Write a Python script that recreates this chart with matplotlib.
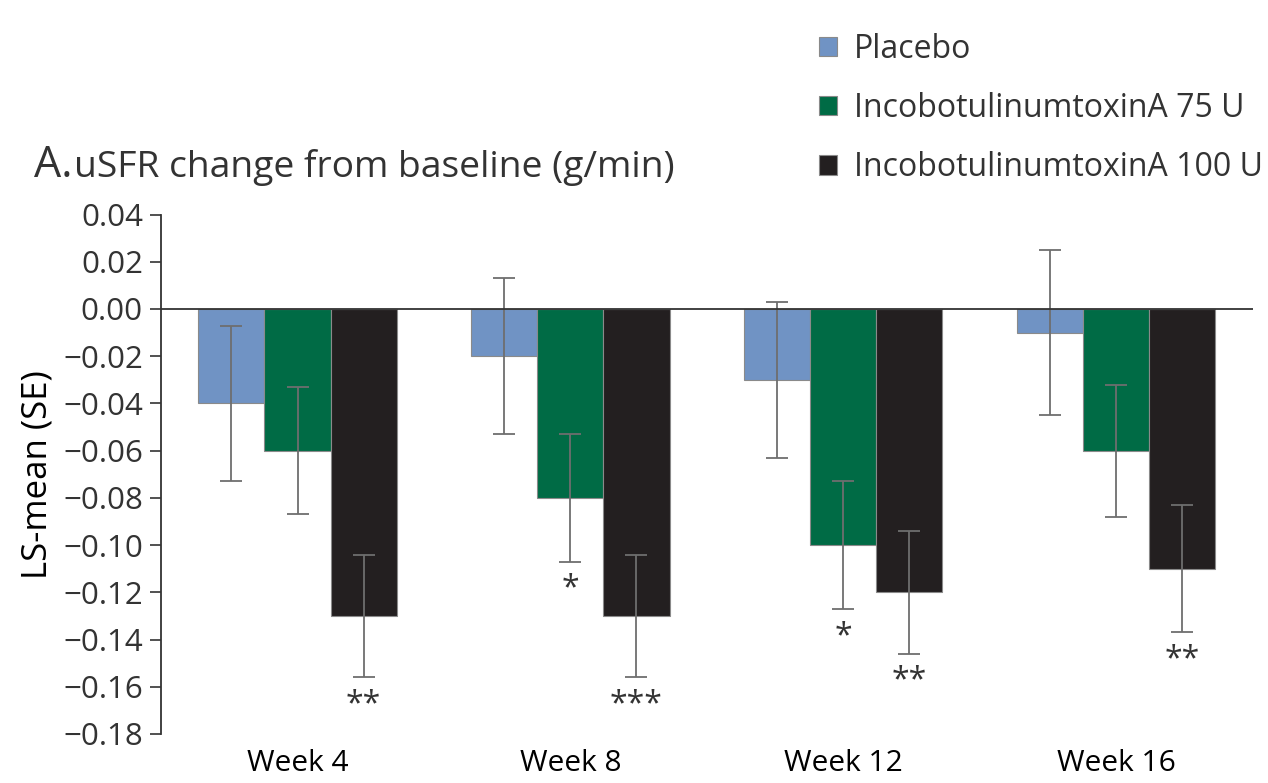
import numpy as np
import matplotlib.pyplot as plt

plt.rcParams['font.family'] = ['Open Sans', 'DejaVu Sans']
plt.rcParams['text.color'] = '#333333'

weeks = ['Week 4', 'Week 8', 'Week 12', 'Week 16']
groups = ['Placebo', 'IncobotulinumtoxinA 75 U', 'IncobotulinumtoxinA 100 U']

placebo = [-0.04, -0.02, -0.03, -0.01]
dose75 = [-0.06, -0.08, -0.10, -0.06]
dose100 = [-0.13, -0.13, -0.12, -0.11]

placebo_se = [0.033, 0.033, 0.033, 0.035]
dose75_se = [0.027, 0.027, 0.027, 0.028]
dose100_se = [0.026, 0.026, 0.026, 0.027]

placebo_sig = ['', '', '', '']
dose75_sig = ['', '*', '*', '']
dose100_sig = ['**', '***', '**', '**']

colors = ['#7093c4', '#006b45', '#231f20']
yticks = np.round(np.arange(-0.18, 0.041, 0.02), 2)

fig = plt.figure(figsize=(12.68, 7.83), dpi=100)
ax = fig.add_axes([0.127, 0.0626, 0.861, 0.6634])

x = np.arange(len(weeks))
w = 0.242
series = [(placebo, placebo_se, placebo_sig),
          (dose75, dose75_se, dose75_sig),
          (dose100, dose100_se, dose100_sig)]

handles = []
for i, (vals, se, sig) in enumerate(series):
    pos = x + (i - 1) * w
    b = ax.bar(pos, vals, w, color=colors[i], edgecolor='#8a8a8a', linewidth=0.8,
               yerr=se, error_kw=dict(ecolor='#6e6e6e', elinewidth=1.3, capsize=8, capthick=1.3))
    handles.append(b)
    for xp, v, s, st in zip(pos, vals, se, sig):
        if st:
            ax.annotate(st, (xp, v - s), xytext=(0, -8), textcoords='offset points',
                        ha='center', va='top', fontsize=23, color='#333333')

ax.axhline(0, color='#333333', lw=1.3, zorder=5)

ax.set_xlim(-0.5, 3.5)
ax.set_ylim(-0.18, 0.04)
ax.set_yticks(yticks)
ax.set_yticklabels([f'{t:.2f}'.replace('-', '\u2212') if t != 0 else '0.00' for t in yticks])
ax.set_xticks(x)
ax.set_xticklabels(weeks)
ax.tick_params(axis='x', length=0, pad=11, labelsize=21.5)
ax.tick_params(axis='y', length=8, width=1.2, labelsize=22.5, color='#333333', labelcolor='#333333', pad=5)
for sp in ['top', 'right', 'bottom']:
    ax.spines[sp].set_visible(False)
ax.spines['left'].set_linewidth(1.3)
ax.spines['left'].set_color('#333333')
ax.set_ylabel('LS-mean (SE)', fontsize=25, labelpad=6)

fig.text(0.027, 0.774, 'A.', fontsize=31, va='baseline', ha='left')
fig.text(0.058, 0.774, 'uSFR change from baseline (g/min)', fontsize=26.8, va='baseline', ha='left')

fig.legend(handles, groups, loc='upper left', bbox_to_anchor=(0.646, 0.958), frameon=False,
           fontsize=23, handlelength=0.55, handleheight=0.55, handletextpad=0.55,
           labelspacing=0.82, borderpad=0, borderaxespad=0)

fig.savefig('out.png', dpi=100)
